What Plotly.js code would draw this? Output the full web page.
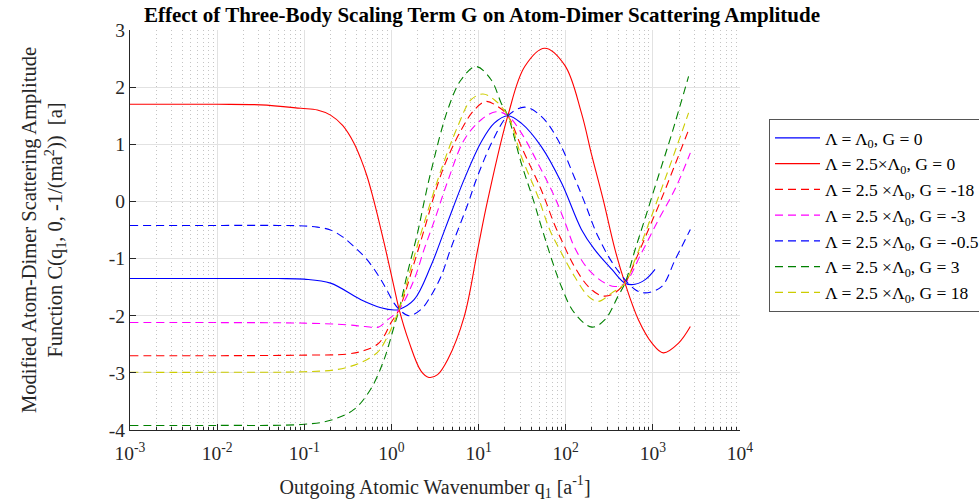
<!DOCTYPE html>
<html>
<head>
<meta charset="utf-8">
<script src="https://cdn.plot.ly/plotly-3.0.1.min.js"></script>
<style>html,body{margin:0;padding:0;background:#fff;}#chart{width:979px;height:501px;}</style>
</head>
<body>
<div id="chart"></div>
<script>
// ---- Data ----
const seriesNames = [
  "Λ = Λ<sub>0</sub>, G = 0",
  "Λ = 2.5×Λ<sub>0</sub>, G = 0",
  "Λ = 2.5 ×Λ<sub>0</sub>, G = -18",
  "Λ = 2.5 ×Λ<sub>0</sub>, G = -3",
  "Λ = 2.5 ×Λ<sub>0</sub>, G = -0.5",
  "Λ = 2.5 ×Λ<sub>0</sub>, G = 3",
  "Λ = 2.5 ×Λ<sub>0</sub>, G = 18"
];

const qBlueSolid = [0.001,0.01,0.0501,0.1,0.2,0.447,0.759,1.072,1.225,1.82,2.818,4.036,5.248,6.855,10.72,15.14,21.68,30.9,52.48,89.13,151.4,213.8,338.8,478.6,623.7,831.8,1059];
const cBlueSolid = [-1.35,-1.35,-1.35,-1.36,-1.43,-1.72,-1.86,-1.90,-1.89,-1.72,-1.14,-0.52,-0.06,0.39,1.04,1.37,1.50,1.37,0.96,0.33,-0.49,-0.84,-1.19,-1.43,-1.45,-1.36,-1.19];

const qRedSolid = [0.001,0.01,0.0316,0.0912,0.1413,0.2,0.2754,0.372,0.4467,0.525,0.6026,0.692,0.8318,1.072,1.225,1.585,2.188,2.692,3.388,4.416,6.855,9.772,12.76,21.68,33.88,57.28,97.72,151.4,199.5,269.2,367.3,478.6,682.3,977.2,1318,1972,2692];
const cRedSolid = [1.70,1.70,1.69,1.63,1.60,1.51,1.33,1.02,0.74,0.44,0.12,-0.24,-0.75,-1.50,-1.89,-2.45,-2.97,-3.08,-3.03,-2.77,-2.01,-0.84,0.03,1.50,2.36,2.68,2.38,1.55,0.80,0.03,-0.84,-1.43,-2.07,-2.48,-2.65,-2.48,-2.19];

const qRedDash = [0.001,0.01,0.1,0.316,0.484,0.692,0.822,0.982,1.225,1.82,2.57,2.951,4.036,6.31,8.913,12.19,16.6,21.68,30.9,52.48,74.13,89.13,125.9,182,257,338.8,478.6,623.7,891.3,1259,1803,2570];
const cRedDash = [-2.70,-2.70,-2.69,-2.67,-2.61,-2.50,-2.36,-2.13,-1.89,-1.08,-0.32,0.0,0.62,1.25,1.60,1.75,1.66,1.50,0.96,0.20,-0.40,-0.67,-1.14,-1.49,-1.65,-1.63,-1.43,-1.05,-0.49,0.05,0.65,1.25];

const qMagDash = [0.001,0.01,0.1,0.316,0.501,0.708,0.891,1.225,1.82,2.371,3.09,4.416,6.855,10.72,15.85,21.68,30.9,47.86,74.13,100,125.9,182,281.8,367.3,478.6,741.3,1161,1803,2692];
const cMagDash = [-2.12,-2.12,-2.13,-2.16,-2.19,-2.20,-2.08,-1.89,-1.37,-0.84,-0.35,0.35,1.08,1.43,1.57,1.50,1.20,0.67,0.09,-0.40,-0.80,-1.19,-1.43,-1.49,-1.43,-0.90,-0.32,0.22,0.85];

const qBlueDash = [0.001,0.01,0.0501,0.1,0.1413,0.2,0.2754,0.372,0.525,0.759,1.072,1.225,1.585,2.188,2.818,3.715,4.786,7.516,9.772,15.14,21.68,33.88,52.48,81.28,125.9,166,234.4,367.3,623.7,812.8,1259,1803,2692];
const cBlueDash = [-0.42,-0.42,-0.42,-0.43,-0.45,-0.50,-0.62,-0.79,-1.02,-1.37,-1.78,-1.89,-2.00,-1.89,-1.66,-1.31,-0.83,-0.05,0.45,1.12,1.50,1.65,1.49,1.08,0.42,-0.03,-0.61,-1.14,-1.54,-1.60,-1.49,-1.02,-0.49];

const qGreenDash = [0.001,0.01,0.1,0.2,0.372,0.575,0.822,1.072,1.225,1.528,1.995,2.377,2.818,4.416,6.31,9.333,13.93,18.2,21.68,30.9,43.65,52.48,89.13,125.9,199.5,281.8,398.1,478.6,623.7,812.8,1161,1660,2570];
const cGreenDash = [-3.92,-3.92,-3.90,-3.83,-3.64,-3.29,-2.77,-2.19,-1.89,-1.25,-0.55,0.0,0.50,1.60,2.13,2.36,2.13,1.72,1.50,0.67,-0.03,-0.44,-1.49,-1.95,-2.20,-2.07,-1.66,-1.43,-0.85,-0.30,0.45,1.20,2.19];

const qYellowDash = [0.001,0.01,0.1,0.24,0.447,0.692,0.822,1.225,1.66,2.371,3.715,5.754,8.204,11.22,15.14,21.68,30.9,47.86,65.31,89.13,125.9,182,234.4,338.8,478.6,623.7,891.3,1202,1514,1972,2570];
const cYellowDash = [-2.99,-2.99,-2.98,-2.94,-2.82,-2.64,-2.48,-1.89,-1.18,-0.38,0.55,1.31,1.78,1.88,1.78,1.50,0.79,0.09,-0.49,-0.90,-1.31,-1.66,-1.75,-1.60,-1.43,-1.02,-0.40,0.14,0.56,1.05,1.55];

const xTickVals = [0.001,0.01,0.1,1,10,100,1000,10000];
const xTickText = ["10<sup>-3</sup>","10<sup>-2</sup>","10<sup>-1</sup>","10<sup>0</sup>","10<sup>1</sup>","10<sup>2</sup>","10<sup>3</sup>","10<sup>4</sup>"];
const yTickVals = [-4,-3,-2,-1,0,1,2,3];
const yTickText = ["-4","-3","-2","-1","0","1","2","3"];

// ---- Styles ----
const FONT = "Liberation Serif, Times New Roman, serif";
const DASH = "8px,5px";
const styles = [
  {color:"#0000ff", dash:"solid"},
  {color:"#ff0000", dash:"solid"},
  {color:"#ff0000", dash:DASH},
  {color:"#ff00ff", dash:DASH},
  {color:"#0000ff", dash:DASH},
  {color:"#008000", dash:DASH},
  {color:"#cccc00", dash:DASH}
];
const xs = [qBlueSolid,qRedSolid,qRedDash,qMagDash,qBlueDash,qGreenDash,qYellowDash];
const ys = [cBlueSolid,cRedSolid,cRedDash,cMagDash,cBlueDash,cGreenDash,cYellowDash];

const traces = xs.map((x,i)=>({
  type:"scatter", mode:"lines", x:x, y:ys[i], name:seriesNames[i],
  legendgroup:"g"+i,
  line:{color:styles[i].color, dash:styles[i].dash, width:1.1, shape:"spline", smoothing:1}
}));

const minorVals = [];
for (let k=-3;k<4;k++){ for (let d=2; d<10; d++){ minorVals.push(d*Math.pow(10,k)); } }

const layout = {
  width:979, height:501,
  margin:{l:130, r:239, t:30, b:71},
  paper_bgcolor:"#fff", plot_bgcolor:"#fff",
  font:{family:FONT, color:"#262626", size:19},
  showlegend:true,
  title:{text:"<b>Effect of Three-Body Scaling Term G on Atom-Dimer Scattering Amplitude</b>",
         font:{family:FONT, size:21, color:"#000"}, xref:"container", x:0.4923, xanchor:"center",
         yref:"container", y:0.971, yanchor:"middle"},
  xaxis:{
    type:"log", range:[-3,4], tickmode:"array", tickvals:xTickVals, ticktext:xTickText,
    ticks:"inside", ticklen:6, tickcolor:"#262626", tickwidth:1, ticklabelstandoff:6,
    showline:true, linecolor:"#262626", linewidth:1, mirror:false,
    showgrid:true, gridcolor:"#e2e2e2", gridwidth:1, zeroline:false,
    tickfont:{family:FONT, size:19.5, color:"#262626"},
    minor:{tickmode:"array", tickvals:minorVals, ticks:"inside", ticklen:3, tickcolor:"#262626",
           showgrid:true, gridcolor:"#c4c4c4", griddash:"1px,3px", gridwidth:1},
    title:{text:"Outgoing Atomic Wavenumber q<sub>1</sub> [a<sup>-1</sup>]", font:{family:FONT, size:20, color:"#262626"}, standoff:16},
    automargin:false
  },
  yaxis:{
    range:[-4,3], tickmode:"array", tickvals:yTickVals, ticktext:yTickText,
    ticks:"inside", ticklen:6, tickcolor:"#262626",
    showline:true, linecolor:"#262626", linewidth:1, mirror:false,
    showgrid:true, gridcolor:"#e2e2e2", gridwidth:1, zeroline:false,
    tickfont:{family:FONT, size:19.5, color:"#262626"},
    title:{text:"Modified Atom-Dimer Scattering Amplitude<br>Function C(q<sub>1</sub>, 0, -1/(ma<sup>2</sup>))\u00a0\u00a0[a]", font:{family:FONT, size:20.5, color:"#262626"}, standoff:40},
    automargin:false
  },
  legend:{
    xref:"container", yref:"container", x:769/979, y:1-119/501, xanchor:"left", yanchor:"top",
    bgcolor:"#fff", bordercolor:"#555555", borderwidth:1,
    font:{family:FONT, size:17.5, color:"#000"},
    tracegroupgap:9, itemwidth:45, traceorder:"normal"
  }
};

Plotly.newPlot("chart", traces, layout, {displayModeBar:false, staticPlot:true});
</script>
</body>
</html>
